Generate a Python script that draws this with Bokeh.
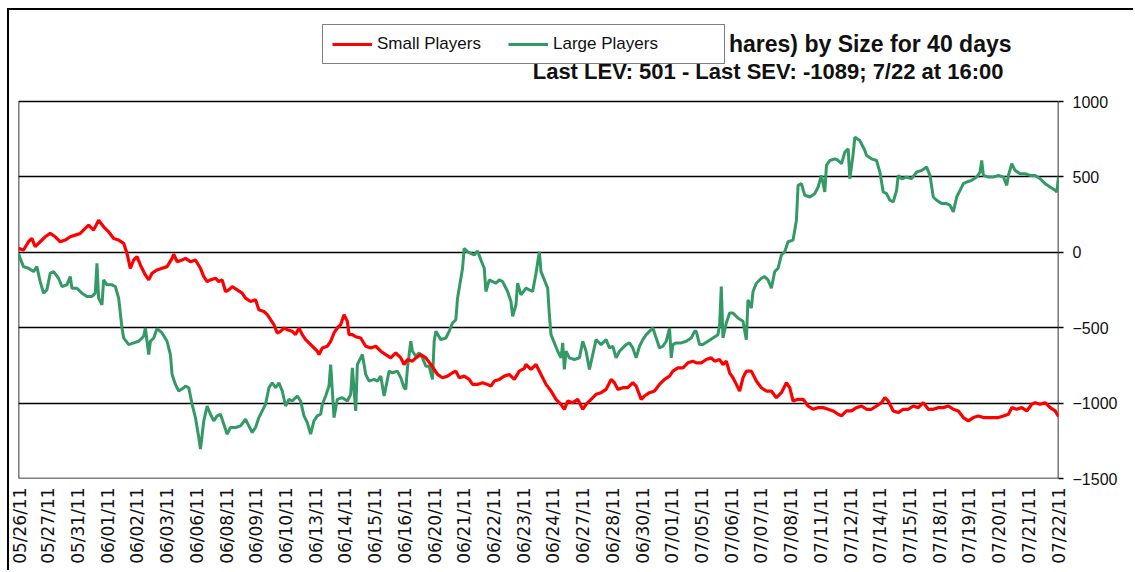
import numpy as np
from bokeh.plotting import figure
from bokeh.models import Range1d, FixedTicker, Label, Legend, LegendItem
from bokeh.embed import file_html
from bokeh.resources import INLINE

# ---------------- data ----------------
x_labels = ["05/26/11", "05/27/11", "05/31/11", "06/01/11", "06/02/11", "06/03/11",
            "06/06/11", "06/08/11", "06/09/11", "06/10/11", "06/13/11", "06/14/11",
            "06/15/11", "06/16/11", "06/20/11", "06/21/11", "06/22/11", "06/23/11",
            "06/24/11", "06/27/11", "06/28/11", "06/30/11", "07/01/11", "07/05/11",
            "07/06/11", "07/07/11", "07/08/11", "07/11/11", "07/12/11", "07/14/11",
            "07/15/11", "07/18/11", "07/19/11", "07/20/11", "07/21/11", "07/22/11"]

LAST_OBS = 623  # index of the last intraday observation (7/22 16:00)

# Small Players (SEV) - observation index / value
small_t = [0, 3, 6, 8, 10, 13, 16, 19, 22, 25, 28, 31, 34, 37, 40, 42, 45, 48, 51, 54,
           57, 60, 63, 65, 67, 69, 71, 73, 76, 78, 80, 83, 86, 89, 92, 93, 95, 98,
           100, 103, 106, 109, 111, 113, 115, 118, 120, 122, 124, 126, 128, 131, 134, 136,
           139, 142, 144, 147, 149, 151, 153, 155, 157, 159, 161, 164, 166, 168, 170, 172,
           174, 176, 179, 180, 182, 185, 187, 189, 191, 193, 195, 197, 198, 200,
           202, 205, 208, 211, 214, 217, 220, 223, 226, 229, 231, 233, 236, 238, 241, 244,
           247, 249, 251, 254, 257, 260, 262, 264, 267, 270, 272, 275, 278, 281, 283, 285,
           288, 291, 294, 297, 300, 303,
           304, 307, 310, 313, 316, 319, 322, 325, 327, 329, 332, 335, 338, 340, 343, 346,
           349, 352, 355, 357, 359, 362, 365, 368, 370, 373, 375, 378, 381, 384, 387, 390,
           392, 395, 398, 401, 404,
           406, 409, 412, 415, 417, 420, 422, 424, 426, 428, 430, 432, 434, 436, 439, 442,
           445, 448, 451, 454, 457, 460, 462, 464, 467, 470, 473, 476, 479, 482, 485, 488,
           491, 493, 496, 499, 502, 505,
           508, 511, 514, 517, 519, 521, 524, 527, 530, 533, 536, 539, 542, 545, 548, 551,
           554, 557, 560, 563, 566, 569, 572, 575, 578, 581, 584, 587, 590, 593, 595, 598,
           601, 604, 607, 609, 612, 615, 618, 621, 623]
small_v = [26, 15, 70, 92, 37, 70, 103, 125, 103, 70, 81, 103, 114, 125, 158, 180, 147, 213, 169, 136,
           92, 81, 59, -7, -106, -51, -29, -84, -150, -183, -139, -117, -106, -95, -40, -13, -62, -51,
           -40, -62, -51, -106, -161, -194, -183, -172, -194, -183, -260, -249, -227, -249, -271, -304,
           -326, -315, -381, -392, -414, -447, -480, -535, -524, -502, -513, -524, -546, -502, -546, -579,
           -601, -623, -656, -678, -634, -623, -590, -535, -502, -480, -414, -458, -546, -546,
           -560, -568, -623, -634, -623, -656, -678, -700, -667, -700, -744, -711, -722, -700, -678, -700,
           -744, -777, -810, -832, -821, -799, -788, -832, -821, -843, -876, -876, -865, -876, -887, -854,
           -843, -821, -810, -843, -788, -770,
           -744, -777, -744, -810, -876, -920, -975, -1008, -1041, -986, -997, -975, -1041, -1008, -975, -942,
           -931, -909, -843, -865, -909, -898, -898, -865, -887, -975, -953, -931, -920, -876, -843, -821,
           -788, -766, -766, -733, -722,
           -733, -733, -711, -700, -722, -711, -744, -722, -799, -832, -876, -920, -832, -788, -788, -854,
           -898, -920, -920, -964, -931, -865, -898, -986, -975, -975, -1019, -1041, -1030, -1030, -1041, -1052,
           -1074, -1085, -1052, -1052, -1030, -1019,
           -1041, -1041, -1019, -997, -964, -986, -1052, -1063, -1041, -1041, -1019, -1030, -997, -1041, -1041, -1030,
           -1030, -1019, -1041, -1052, -1096, -1118, -1096, -1085, -1096, -1096, -1096, -1096, -1085, -1074, -1030, -1041,
           -1030, -1052, -1008, -997, -1008, -997, -1030, -1052, -1089]

# Large Players (LEV) - observation index / value
large_t = [0, 1, 3, 6, 9, 11, 13, 15, 17, 19, 21, 24, 26, 29, 31, 32, 35, 38, 41, 44,
           46, 47, 48, 50, 51, 53, 56, 58, 60, 62, 63, 66, 69, 72, 75, 76, 78, 79, 81, 83,
           86, 89, 91, 92, 94, 96, 99,
           100, 102, 104, 106, 108, 109, 111, 113, 115, 117, 119, 121, 123, 125, 127, 130,
           133, 136, 138, 140, 142, 144, 146, 148, 150, 152, 154, 156, 158, 160, 162, 164,
           167, 169, 171, 173, 175, 177, 179, 181, 182, 184, 186, 187, 188, 189, 191, 194,
           197, 199, 200,
           202, 203, 205, 206, 208, 210, 213, 215, 217, 219, 221, 222, 224, 227, 229, 231,
           232, 233, 234, 235, 236, 238, 240, 242, 244, 246, 248, 249, 250, 253, 256, 258,
           260, 262, 263, 264, 266, 267, 269, 271, 273, 275, 277, 279, 280, 282, 284, 286,
           288, 290, 293, 295, 296, 298, 299, 301,
           304, 306, 308, 310, 312, 313, 315, 317, 318, 319, 321, 323, 325, 326, 327, 328,
           330, 333, 336, 338, 340, 342, 344, 346, 349, 352, 354, 356, 358, 360, 362, 364,
           366, 368, 370, 372, 374, 376, 378, 380, 382, 384, 386, 388, 390, 391, 392, 394,
           397, 400, 403, 405,
           406, 408, 410, 413, 416, 419, 420, 421, 422, 424, 426, 428, 431, 434, 436, 437,
           439, 440, 442, 445, 447, 449, 451, 453, 455, 457, 459, 461, 464, 466, 467, 469,
           471, 474, 477, 479, 481, 483, 484, 486, 489, 491, 493, 495, 497, 498, 500, 501,
           504, 507,
           508, 511, 514, 516, 518, 520, 522, 524, 526, 527, 529, 532, 535, 538, 541, 544,
           546, 548, 550, 553, 556, 558, 560, 562, 564, 566, 568, 571, 574, 576, 577, 578,
           581, 584, 587, 590, 592, 593, 595, 597, 600, 603, 606, 609, 612, 615, 618, 621,
           622, 623]
large_v = [-7, -40, -95, -106, -128, -95, -194, -271, -249, -139, -128, -172, -227, -216, -161, -238, -238, -271, -293, -293,
           -271, -73, -304, -348, -183, -216, -216, -227, -304, -502, -568, -612, -601, -590, -557, -502, -678, -590, -568, -506,
           -535, -590, -678, -810, -876, -920, -898,
           -887, -898, -1008, -1096, -1228, -1305, -1118, -1019, -1074, -1118, -1085, -1074, -1140, -1206, -1162, -1162,
           -1151, -1107, -1151, -1195, -1162, -1096, -1052, -1008, -898, -865, -898, -865, -920, -1019, -975, -986,
           -953, -986, -1085, -1129, -1206, -1118, -1085, -1074, -1008, -953, -887, -744, -920, -1096, -975, -964,
           -986, -942, -766,
           -1052, -744, -700, -678, -810, -854, -843, -854, -821, -953, -843, -788, -799, -788, -832, -898,
           -909, -766, -678, -590, -656, -689, -667, -700, -755, -755, -843, -590, -524, -579, -568, -524,
           -469, -447, -304, -238, -106, 26, 4, -7, -18, 9, -51, -106, -260, -183, -194, -205,
           -183, -194, -260, -326, -425, -348, -205, -282,
           -238, -249, -260, -139, 4, -128, -183, -238, -414, -546, -601, -656, -700, -601, -777, -656,
           -700, -711, -700, -590, -656, -777, -678, -579, -612, -579, -634, -623, -700, -656, -634, -612,
           -601, -634, -700, -623, -579, -546, -524, -502, -568, -634, -623, -590, -502, -700, -612, -601,
           -601, -590, -568, -524,
           -524, -612, -612, -590, -568, -546, -480, -227, -568, -469, -403, -403, -436, -458, -579, -315,
           -370, -260, -205, -172, -161, -183, -238, -128, -106, -18, 4, 70, 81, 213, 444, 455,
           378, 367, 389, 433, 510, 400, 576, 609, 620, 609, 587, 664, 686, 488, 653, 763,
           741, 675,
           642, 620, 609, 532, 400, 389, 345, 334, 411, 510, 488, 499, 488, 532, 543, 565,
           510, 367, 345, 323, 323, 312, 268, 367, 411, 455, 466, 477, 499, 532, 609, 510,
           499, 499, 510, 499, 444, 510, 587, 543, 521, 521, 510, 510, 488, 455, 433, 411,
           400, 501]

y_ticks = [-1500, -1000, -500, 0, 500, 1000]
grid_levels = [-1000, -500, 0, 500]

title_line1 = "hares) by Size for 40 days"
title_line2 = "Last LEV: 501 - Last SEV: -1089; 7/22 at 16:00"

assert len(small_t) == len(small_v), (len(small_t), len(small_v))
assert len(large_t) == len(large_v), (len(large_t), len(large_v))

# observation index -> label-slot units (36 evenly spaced labels)
n_slots = len(x_labels) - 1
xs_small = np.array(small_t) * n_slots / LAST_OBS
xs_large = np.array(large_t) * n_slots / LAST_OBS

FONT = "Liberation Sans"

# layout (pixels)
PLOT_H = 377          # height of the value area (-1500..1000)
HEADER_H = 89         # title / legend area above the value area, inside the frame
y_lo, y_hi = y_ticks[0], y_ticks[-1]
units_per_px = (y_hi - y_lo) / PLOT_H
y_top = y_hi + HEADER_H * units_per_px

p = figure(frame_width=1040, frame_height=PLOT_H + HEADER_H,
           x_range=Range1d(0, n_slots), y_range=Range1d(y_lo, y_top),
           y_axis_location="right", output_backend="svg", toolbar_location=None,
           min_border_left=9, min_border_top=2, min_border_right=75, min_border_bottom=92,
           background_fill_color="white", border_fill_color="white")
p.styles = {"margin-left": "7px", "margin-top": "8px",
            "border-top": "2px solid black", "border-left": "2px solid black"}

p.outline_line_color = None
p.xgrid.visible = False
p.ygrid.ticker = FixedTicker(ticks=grid_levels)
p.ygrid.grid_line_color = "black"
p.ygrid.grid_line_width = 1.3

# plot-area box (value area only)
p.quad(left=[0], right=[n_slots], bottom=[y_lo], top=[y_hi],
       fill_color=None, line_color="black", line_width=1.6)

ya = p.yaxis[0]
ya.ticker = FixedTicker(ticks=y_ticks)
ya.axis_line_color = None
ya.major_tick_line_color = "black"
ya.major_tick_line_width = 1.3
ya.major_tick_out = 5
ya.major_tick_in = 0
ya.minor_tick_out = 0
ya.minor_tick_in = 0
ya.major_label_standoff = 9
ya.major_label_text_font = FONT
ya.major_label_text_font_size = "16px"
ya.major_label_text_color = "#111111"

xa = p.xaxis[0]
xa.ticker = FixedTicker(ticks=list(range(len(x_labels))))
xa.major_label_overrides = {i: lab for i, lab in enumerate(x_labels)}
xa.major_label_orientation = np.pi / 2
xa.axis_line_color = None
xa.major_tick_out = 0
xa.major_tick_in = 0
xa.minor_tick_out = 0
xa.minor_tick_in = 0
xa.major_label_standoff = 9
xa.major_label_text_font = "DejaVu Sans"
xa.major_label_text_font_size = "17px"
xa.major_label_text_color = "#111111"

r_large = p.line(xs_large, large_v, line_color="#339966", line_width=3)
r_small = p.line(xs_small, small_v, line_color="#ff0000", line_width=3.2)

legend = Legend(items=[LegendItem(label="Small Players", renderers=[r_small]),
                       LegendItem(label="Large Players" + "\u00a0" * 12, renderers=[r_large])],
                location=(304, 414), orientation="horizontal",
                glyph_width=40, glyph_height=20, label_standoff=5, label_width=110,
                spacing=21, padding=9, margin=0,
                label_text_font=FONT, label_text_font_size="17px", label_text_color="#111111",
                border_line_color="black", border_line_width=1.5,
                background_fill_color="white", background_fill_alpha=1.0)
p.add_layout(legend, "center")

for txt, xoff, yoff, size in [(title_line1, -47, 58, "23px"), (title_line2, -55, 30, "22px")]:
    p.add_layout(Label(x=n_slots, y=y_hi, x_offset=xoff, y_offset=yoff, text=txt,
                       text_align="right", text_baseline="middle",
                       text_font=FONT, text_font_style="bold", text_font_size=size,
                       text_color="#111111"))

open("out.html", "w").write(file_html(p, INLINE))
